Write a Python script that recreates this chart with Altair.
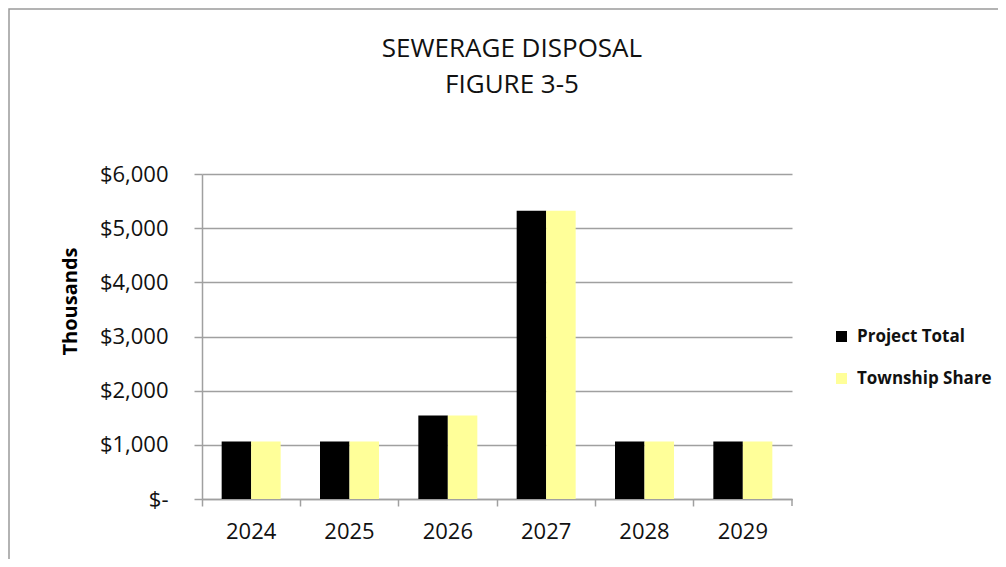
import altair as alt
import pandas as pd

years = ["2024", "2025", "2026", "2027", "2028", "2029"]
project_total = [1060, 1060, 1540, 5320, 1060, 1060]
township_share = [1060, 1060, 1540, 5320, 1060, 1060]
series = ["Project Total", "Township Share"]
colors = ["#000000", "#FFFF99"]
y_ticks = [0, 1000, 2000, 3000, 4000, 5000, 6000]
title_lines = ["SEWERAGE DISPOSAL", "FIGURE 3-5"]

rows = []
for i, yr in enumerate(years):
    rows.append({"year": yr, "series": series[0], "value": project_total[i]})
    rows.append({"year": yr, "series": series[1], "value": township_share[i]})
df = pd.DataFrame(rows)

FONT = "Open Sans"
GRAY = "#a0a0a0"
W, H = 590, 325

bars = alt.Chart(df).mark_bar().encode(
    x=alt.X("year:N", sort=years, title=None,
            scale=alt.Scale(paddingInner=0.4, paddingOuter=0.2),
            axis=alt.Axis(labelAngle=0, bandPosition=-0.3333, tickSize=7,
                          tickColor=GRAY, tickWidth=1.5, domainColor=GRAY, domainWidth=1.5,
                          labelFont=FONT, labelFontSize=22, labelColor="#111111",
                          labelPadding=15, grid=False)),
    xOffset=alt.XOffset("series:N", sort=series,
                        scale=alt.Scale(paddingInner=0, paddingOuter=0)),
    y=alt.Y("value:Q", scale=alt.Scale(domain=[0, 6000], nice=False),
            title="Thousands",
            axis=alt.Axis(values=y_ticks, grid=True, gridColor=GRAY, gridWidth=1.5,
                          tickSize=8, tickColor=GRAY, tickWidth=1.5,
                          domainColor=GRAY, domainWidth=1.5,
                          labelExpr="datum.value == 0 ? '$-' : '$' + format(datum.value, ',')",
                          labelFont=FONT, labelFontSize=22, labelColor="#111111",
                          labelPadding=26,
                          titleFont=FONT, titleFontSize=20, titleFontWeight="bold",
                          titleColor="#000000", titleAngle=270,
                          titleX=-132, titleY=127, titleAlign="center",
                          titleBaseline="middle")),
    color=alt.Color("series:N", scale=alt.Scale(domain=series, range=colors),
                    legend=alt.Legend(title=None, orient="none", legendX=631, legendY=154,
                                      symbolType="square", symbolSize=121,
                                      symbolStrokeWidth=0, labelFont=FONT,
                                      labelFontSize=17, labelFontWeight="bold",
                                      labelColor="#111111", rowPadding=24,
                                      labelOffset=7)),
)

last_tick = alt.Chart(pd.DataFrame({"k": [0]})).mark_rule(color=GRAY, strokeWidth=1.5).encode(
    x=alt.value(W), y=alt.value(H), y2=alt.value(H + 7)
)

frame = alt.Chart(pd.DataFrame({"k": [0]})).mark_rect(
    fill=None, stroke="#9a9a9a", strokeWidth=1.5
).encode(
    x=alt.value(-193), x2=alt.value(W + 220), y=alt.value(-165), y2=alt.value(H + 80)
)

title = alt.Chart(pd.DataFrame({"k": [0]})).mark_text(
    font=FONT, fontSize=26, color="#111111", align="center",
    baseline="alphabetic", lineHeight=36
).encode(
    x=alt.value(310), y=alt.value(-117), text=alt.value(title_lines)
)

chart = alt.layer(frame, bars, last_tick, title).properties(
    width=W, height=H,
    autosize=alt.AutoSizeParams(type="none"),
    padding={"left": 194, "top": 166, "right": 206, "bottom": 60},
).configure_view(stroke=None)

chart.save("out.html", embed_options={"renderer": "svg", "actions": False})
